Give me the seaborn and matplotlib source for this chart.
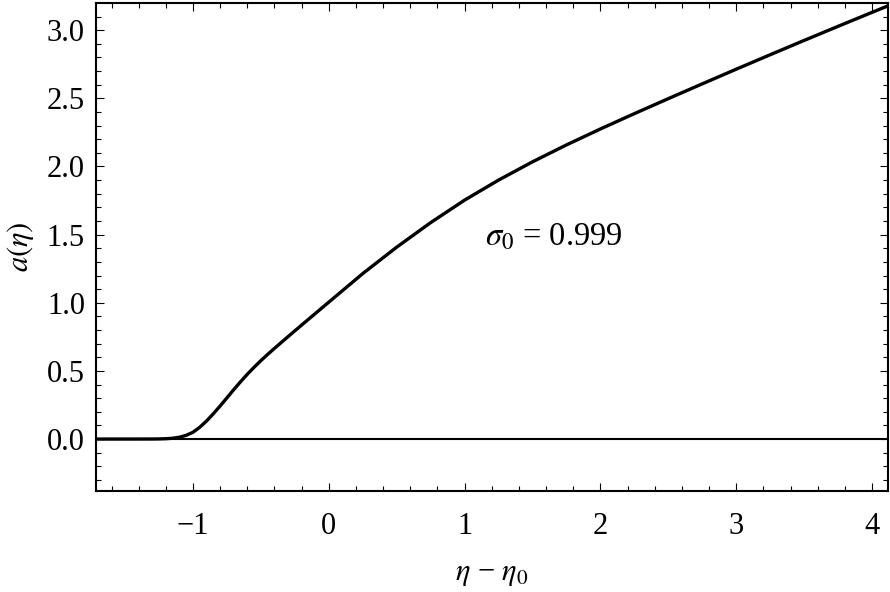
import numpy as np
import pandas as pd
import matplotlib
matplotlib.use("Agg")
import matplotlib.pyplot as plt
import seaborn as sns
from matplotlib.ticker import MultipleLocator, FormatStrFormatter

# data
eta = [-1.72, -1.5, -1.4, -1.3, -1.25, -1.2, -1.15, -1.1, -1.05, -1.0, -0.95, -0.9,
       -0.85, -0.8, -0.75, -0.7, -0.65, -0.6, -0.55, -0.5, -0.45, -0.4, -0.3,
       -0.2, -0.1, 0.0, 0.25, 0.5, 0.75, 1.0, 1.25, 1.5, 1.75, 2.0, 2.25, 2.5,
       2.75, 3.0, 3.25, 3.5, 3.75, 4.0, 4.12]
a_vals = [0.0, 0.0001, 0.0002, 0.0004, 0.001, 0.0025, 0.006, 0.0135, 0.0275, 0.05, 0.087, 0.133,
          0.186, 0.243, 0.3025, 0.3625, 0.4205, 0.4755, 0.527, 0.5755, 0.6215, 0.6655, 0.7515,
          0.8365, 0.9205, 1.0045, 1.214, 1.408, 1.588, 1.753, 1.9, 2.034, 2.158, 2.275, 2.3875, 2.4975,
          2.606, 2.7135, 2.8195, 2.9245, 3.028, 3.1305, 3.179]
x_ticks = [-1, 0, 1, 2, 3, 4]
y_ticks = [0.0, 0.5, 1.0, 1.5, 2.0, 2.5, 3.0]
annotation = r"$\sigma_0$ = 0.999"

sns.set_theme(style="ticks")
plt.rcParams["font.family"] = ["Liberation Serif", "DejaVu Serif"]
plt.rcParams["mathtext.fontset"] = "stix"
plt.rcParams["axes.unicode_minus"] = True
plt.rcParams["text.color"] = "black"
plt.rcParams["axes.labelcolor"] = "black"
plt.rcParams["xtick.labelcolor"] = "black"
plt.rcParams["ytick.labelcolor"] = "black"

df = pd.DataFrame({"eta": eta, "a": a_vals})

fig = plt.figure(figsize=(8.9, 5.92), dpi=100)
ax = fig.add_axes([0.1079, 0.1706, 0.8899, 0.8243])

ax.axhline(0, color="black", lw=1.5, zorder=1)
sns.lineplot(data=df, x="eta", y="a", color="black", lw=2.4, ax=ax, zorder=2)

ax.set_xlim(-1.714, 4.118)
ax.set_ylim(-0.381, 3.199)
ax.set_xticks(x_ticks)
ax.set_yticks(y_ticks)
ax.xaxis.set_minor_locator(MultipleLocator(0.2))
ax.yaxis.set_minor_locator(MultipleLocator(0.1))
ax.yaxis.set_major_formatter(FormatStrFormatter("%.1f"))
ax.tick_params(which="both", direction="in", top=True, right=True,
               color="black", labelcolor="black", width=0.8)
ax.tick_params(which="major", length=6, labelsize=22)
ax.tick_params(axis="x", which="major", pad=15)
ax.tick_params(axis="y", which="major", pad=8)
ax.tick_params(which="minor", length=3.5)
for s in ax.spines.values():
    s.set_linewidth(1.5)
    s.set_color("black")

ax.set_xlabel(r"$\eta$ − $\eta_0$", fontsize=22, labelpad=13, color="black")
ax.set_ylabel(r"$a(\eta)$", fontsize=22, labelpad=8, color="black")
ax.text(1.66, 1.48, annotation, fontsize=23.5, ha="center", va="center", color="black")

fig.savefig("out.png", dpi=100)
